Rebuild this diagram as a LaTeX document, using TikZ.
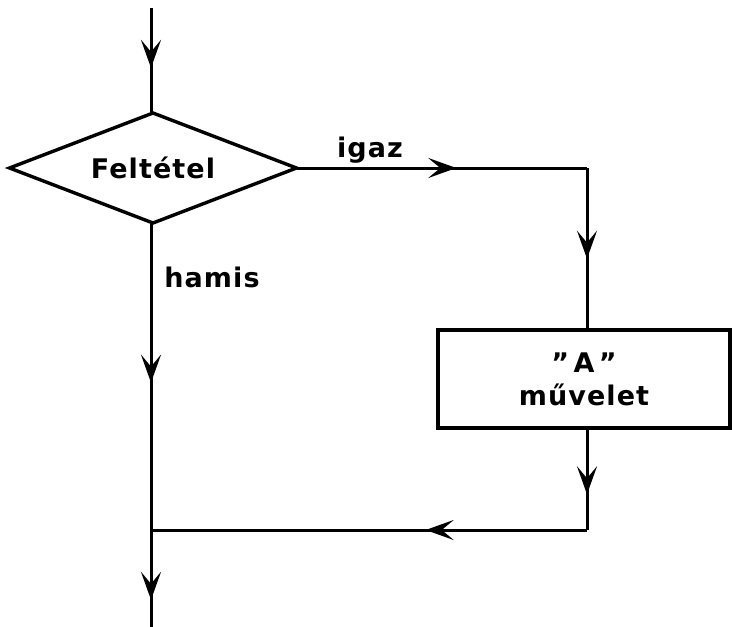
\documentclass[tikz,border=0pt]{standalone}
\usepackage{fontspec}
\setmainfont[LetterSpace=4]{DejaVu Sans}
\usetikzlibrary{shapes.geometric,arrows.meta,decorations.markings}
\tikzset{
  flow/.style={line width=3pt},
  midarrow/.style={postaction={decorate,decoration={markings,
    mark=at position #1 with {\arrow{Stealth[length=28pt,width=20pt,inset=12pt]}}}}},
  decision/.style={diamond,draw,line width=3.4pt,aspect=2.61,minimum width=287pt,minimum height=110pt,
    inner sep=0pt,outer sep=0pt,font=\fontsize{27}{32}\selectfont\bfseries},
  process/.style={rectangle,draw,line width=3.4pt,minimum width=292pt,minimum height=98pt,
    inner sep=0pt,outer sep=0pt,align=center,font=\fontsize{27}{33}\selectfont\bfseries},
  lbl/.style={font=\fontsize{27}{32}\selectfont\bfseries,inner sep=0pt}
}
\begin{document}
\begin{tikzpicture}[x=1pt,y=-1pt]
\useasboundingbox (0,0) rectangle (732,627);
\node[decision] (cond) at (153,168) {Feltétel};
\node[process] (op) at (584,379) {”\,A\,”\\művelet};
\coordinate (start) at (151,8);
\coordinate (c1) at (587,168);
\coordinate (c2) at (587,530);
\coordinate (j) at (151,530);
\coordinate (end) at (151,627);
\draw[flow,midarrow=0.57] (start) -- (start |- cond.north);
\draw[flow,midarrow=0.55] (cond.east) -- (c1);
\draw[flow,midarrow=0.56] (c1) -- (c1 |- op.north);
\draw[flow,midarrow=0.65] (c1 |- op.south) -- (c2);
\draw[flow,midarrow=0.37] (c2) -- (j);
\draw[flow,midarrow=0.52] (start |- cond.south) -- (j);
\draw[flow,midarrow=0.72] (j) -- (end);
\node[lbl] (ltrue) at (370,150) {igaz};
\node[lbl] (lfalse) at (212,277) {hamis};
\end{tikzpicture}
\end{document}
